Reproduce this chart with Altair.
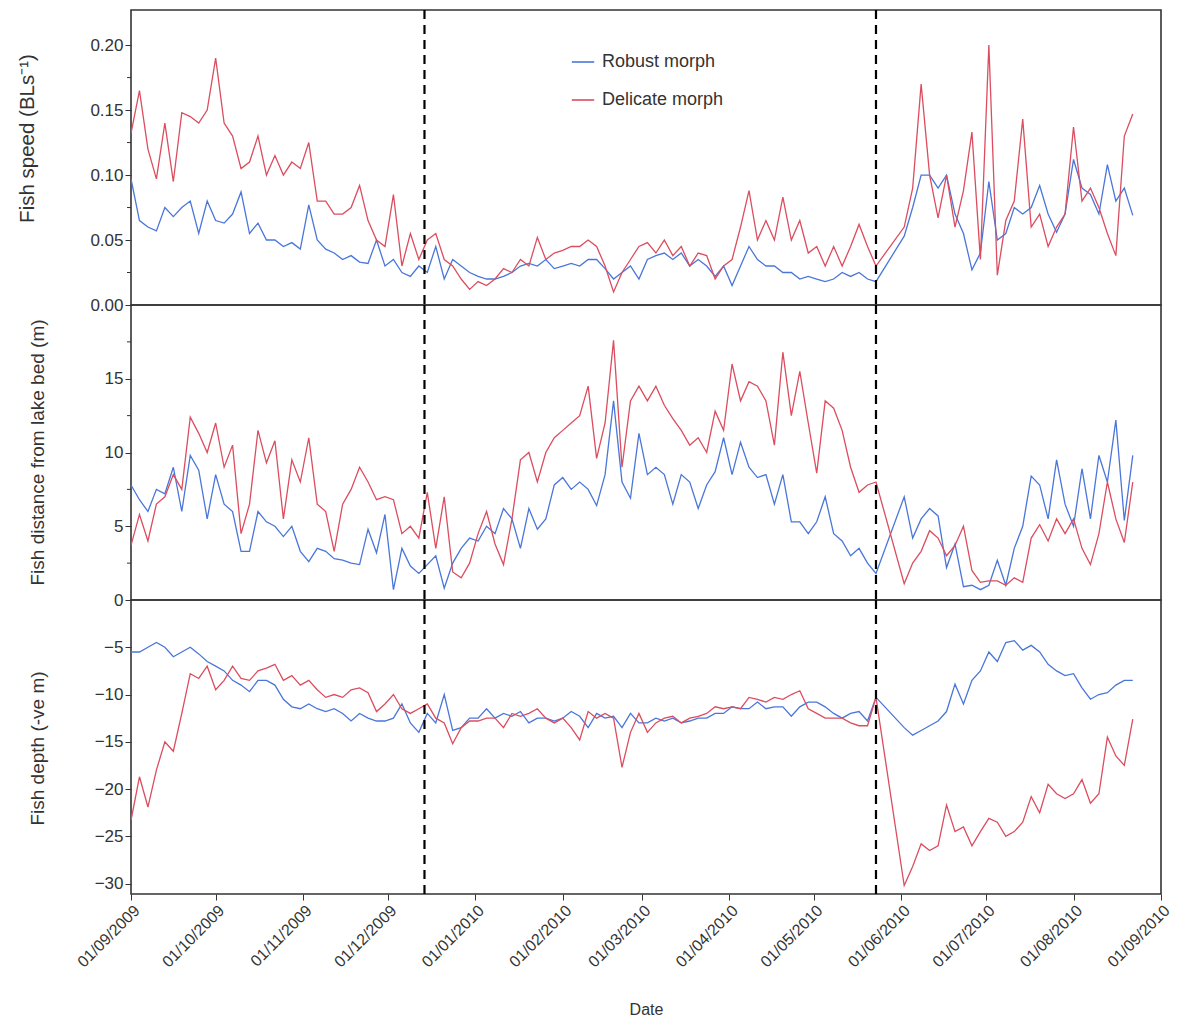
import altair as alt
import pandas as pd

morphs = ["Robust morph", "Delicate morph"]
colors = ["#4a76da", "#db4d5f"]

# sampling days (offset from 01/09/2009); gap in records late May 2010
days_a = list(range(0, 265, 3))
days_b = list(range(274, 356, 3))
days = days_a + days_b

speed_robust = [
    0.097, 0.065, 0.06, 0.057, 0.075, 0.068, 0.075, 0.08, 0.055, 0.08,
    0.065, 0.063, 0.07, 0.087, 0.055, 0.063, 0.05, 0.05, 0.045, 0.048,
    0.043, 0.077, 0.05, 0.043, 0.04, 0.035, 0.038, 0.033, 0.032, 0.05,
    0.03, 0.035, 0.025, 0.022, 0.03, 0.025, 0.045, 0.02, 0.035, 0.03,
    0.025, 0.022, 0.02, 0.02, 0.022, 0.025, 0.03, 0.032, 0.03, 0.035,
    0.028, 0.03, 0.032, 0.03, 0.035, 0.035, 0.028, 0.02, 0.025, 0.03,
    0.02, 0.035, 0.038, 0.04, 0.035, 0.04, 0.03, 0.035, 0.03, 0.022,
    0.03, 0.015, 0.03, 0.045, 0.035, 0.03, 0.03, 0.025, 0.025, 0.02,
    0.022, 0.02, 0.018, 0.02, 0.025, 0.022, 0.025, 0.02, 0.018,
    0.053, 0.075, 0.1, 0.1, 0.09, 0.1, 0.07, 0.055, 0.027, 0.04,
    0.095, 0.05, 0.055, 0.075, 0.07, 0.075, 0.092, 0.07, 0.056, 0.07,
    0.112, 0.09, 0.085, 0.07, 0.108, 0.08, 0.09, 0.069,
]
speed_delicate = [
    0.132, 0.165, 0.12, 0.097, 0.14, 0.095, 0.148, 0.145, 0.14, 0.15,
    0.19, 0.14, 0.13, 0.105, 0.11, 0.13, 0.10, 0.115, 0.10, 0.11,
    0.105, 0.125, 0.08, 0.08, 0.07, 0.07, 0.075, 0.092, 0.065, 0.05,
    0.045, 0.085, 0.03, 0.055, 0.035, 0.05, 0.055, 0.035, 0.03, 0.02,
    0.012, 0.018, 0.015, 0.02, 0.028, 0.025, 0.035, 0.03, 0.052, 0.035,
    0.04, 0.042, 0.045, 0.045, 0.05, 0.045, 0.03, 0.01, 0.025, 0.035,
    0.045, 0.048, 0.04, 0.05, 0.038, 0.045, 0.03, 0.04, 0.038, 0.02,
    0.03, 0.035, 0.06, 0.088, 0.05, 0.065, 0.05, 0.083, 0.05, 0.065,
    0.04, 0.045, 0.03, 0.045, 0.03, 0.045, 0.062, 0.045, 0.03,
    0.06, 0.09, 0.17, 0.10, 0.067, 0.10, 0.06, 0.088, 0.133, 0.035,
    0.20, 0.023, 0.065, 0.08, 0.143, 0.06, 0.07, 0.045, 0.06, 0.07,
    0.137, 0.08, 0.09, 0.075, 0.055, 0.038, 0.13, 0.147,
]
dist_robust = [
    7.8, 6.8, 6.0, 7.5, 7.2, 9.0, 6.0, 9.8, 8.8, 5.5,
    8.5, 6.5, 6.0, 3.3, 3.3, 6.0, 5.3, 5.0, 4.3, 5.0,
    3.3, 2.6, 3.5, 3.3, 2.8, 2.7, 2.5, 2.4, 4.8, 3.2,
    5.8, 0.7, 3.5, 2.3, 1.8, 2.4, 3.0, 0.8, 2.5, 3.5,
    4.2, 4.0, 5.0, 4.5, 6.2, 5.5, 3.5, 6.2, 4.8, 5.5,
    7.8, 8.3, 7.5, 8.0, 7.5, 6.4, 8.5, 13.5, 8.0, 6.9,
    11.3, 8.5, 9.0, 8.5, 6.5, 8.5, 8.0, 6.2, 7.8, 8.7,
    11.0, 8.5, 10.7, 9.0, 8.3, 8.5, 6.5, 8.5, 5.3, 5.3,
    4.5, 5.3, 7.0, 4.5, 4.0, 3.0, 3.5, 2.5, 1.8,
    7.0, 4.2, 5.5, 6.2, 5.7, 2.2, 3.8, 0.9, 1.0, 0.7,
    1.0, 2.7, 1.0, 3.5, 5.0, 8.4, 7.8, 5.5, 9.5, 6.5,
    5.0, 8.9, 5.5, 9.8, 8.0, 12.2, 5.4, 9.8,
]
dist_delicate = [
    3.7, 5.8, 4.0, 6.5, 7.0, 8.5, 7.5, 12.4, 11.3, 10.0,
    12.0, 9.0, 10.5, 4.5, 6.5, 11.5, 9.3, 10.8, 5.5, 9.5,
    8.0, 11.0, 6.5, 6.0, 3.3, 6.5, 7.5, 9.0, 8.0, 6.8,
    7.0, 6.8, 4.5, 5.0, 4.2, 7.3, 3.5, 7.0, 1.9, 1.5,
    2.5, 4.5, 6.0, 3.8, 2.4, 5.5, 9.5, 10.0, 8.0, 10.0,
    11.0, 11.5, 12.0, 12.5, 14.5, 9.6, 12.0, 17.6, 9.0, 13.5,
    14.5, 13.5, 14.5, 13.2, 12.3, 11.5, 10.5, 11.0, 10.0, 12.8,
    11.5, 16.0, 13.5, 14.8, 14.5, 13.5, 10.5, 16.8, 12.5, 15.5,
    12.0, 8.6, 13.5, 13.0, 11.5, 9.0, 7.3, 7.8, 8.0,
    1.1, 2.5, 3.3, 4.7, 4.2, 3.0, 3.7, 5.0, 2.0, 1.2,
    1.3, 1.3, 1.0, 1.5, 1.2, 4.2, 5.1, 4.0, 5.5, 4.5,
    5.5, 3.5, 2.4, 4.5, 8.0, 5.5, 3.9, 8.0,
]
depth_robust = [
    -5.5, -5.5, -5.0, -4.5, -5.0, -6.0, -5.5, -5.0, -5.7, -6.5,
    -7.0, -7.5, -8.5, -9.0, -9.7, -8.5, -8.5, -9.0, -10.5, -11.3,
    -11.5, -11.0, -11.5, -11.8, -11.5, -12.0, -12.8, -12.0, -12.5, -12.8,
    -12.8, -12.5, -11.0, -13.0, -14.0, -12.0, -13.0, -10.0, -13.8, -13.5,
    -12.5, -12.5, -11.5, -12.5, -12.0, -12.3, -11.8, -13.0, -12.5, -12.5,
    -12.8, -12.5, -11.8, -12.3, -13.5, -12.0, -12.5, -12.3, -13.5, -12.0,
    -13.0, -13.0, -12.5, -12.8, -12.5, -13.0, -12.8, -12.5, -12.5, -12.0,
    -12.0, -11.3, -11.5, -11.5, -10.8, -11.5, -11.3, -11.3, -12.3, -11.3,
    -10.8, -10.8, -11.3, -12.0, -12.5, -12.0, -11.8, -12.8, -10.3,
    -13.5, -14.3, -13.8, -13.3, -12.8, -11.8, -8.9, -11.0, -8.5, -7.5,
    -5.5, -6.5, -4.5, -4.3, -5.3, -4.8, -5.5, -6.8, -7.5, -8.0,
    -7.8, -9.3, -10.5, -10.0, -9.8, -9.0, -8.5, -8.5,
]
depth_delicate = [
    -23.3, -18.7, -21.9, -18.0, -15.0, -16.0, -12.0, -7.8, -8.3, -7.0,
    -9.5, -8.5, -7.0, -8.3, -8.5, -7.5, -7.2, -6.8, -8.5, -8.0,
    -9.0, -8.5, -9.5, -10.3, -10.0, -10.3, -9.5, -9.3, -9.8, -11.8,
    -11.0, -10.0, -11.5, -12.0, -11.5, -11.0, -12.5, -13.0, -15.2, -13.5,
    -12.8, -12.8, -12.5, -12.5, -13.5, -12.0, -12.3, -12.0, -11.5, -12.5,
    -13.0, -12.5, -13.5, -14.8, -11.8, -12.5, -12.0, -12.5, -17.7, -14.0,
    -12.0, -14.0, -13.0, -12.5, -12.3, -13.0, -12.5, -12.3, -12.0, -11.3,
    -11.5, -11.3, -11.5, -10.3, -10.5, -10.8, -10.3, -10.5, -10.0, -9.6,
    -11.5, -12.0, -12.5, -12.5, -12.5, -13.0, -13.3, -13.3, -10.3,
    -30.2, -28.2, -25.8, -26.5, -26.0, -21.7, -24.5, -24.0, -26.0, -24.5,
    -23.1, -23.5, -25.0, -24.5, -23.5, -20.8, -22.5, -19.5, -20.5, -21.0,
    -20.5, -19.0, -21.5, -20.5, -14.5, -16.5, -17.5, -12.6,
]

for s in [speed_robust, speed_delicate, dist_robust, dist_delicate, depth_robust, depth_delicate]:
    assert len(s) == len(days), (len(s), len(days))

change_dates = ["2009-12-14", "2010-05-23"]
month_ticks = [(2009, 9), (2009, 10), (2009, 11), (2009, 12), (2010, 1), (2010, 2),
               (2010, 3), (2010, 4), (2010, 5), (2010, 6), (2010, 7), (2010, 8), (2010, 9)]
speed_ticks = [0, 0.05, 0.10, 0.15, 0.20]
speed_minor = [0.025, 0.075, 0.125, 0.175]
dist_ticks = [0, 5, 10, 15]
dist_minor = [2.5, 7.5, 12.5, 17.5]
depth_ticks = [-30, -25, -20, -15, -10, -5]

FONT = "Liberation Sans"
TXT = "#333333"

dates = pd.Timestamp("2009-09-01") + pd.to_timedelta(days, unit="D")
n = len(days)
x_scale = alt.Scale(domain=[alt.DateTime(year=2009, month=9, date=1),
                            alt.DateTime(year=2010, month=9, date=1)])
month_dt = [alt.DateTime(year=y, month=m, date=1) for (y, m) in month_ticks]
rules_df = pd.DataFrame({"date": pd.to_datetime(change_dates)})


def make_panel(s_rob, s_del, ydom, yticks, yfmt, minor, title, tx, ty, tsize,
               height, bottom=False, legend=None):
    df = pd.DataFrame({
        "date": list(dates) * 2,
        "value": s_rob + s_del,
        "morph": [morphs[0]] * n + [morphs[1]] * n,
    })
    if bottom:
        x_axis = alt.Axis(values=month_dt, format="%d/%m/%Y", labelAngle=315,
                          labelFontSize=16, tickSize=6, title="Date",
                          titleFontSize=16, titlePadding=32)
    else:
        x_axis = None
    x_enc = alt.X("date:T", scale=x_scale, axis=x_axis)
    y_enc = alt.Y("value:Q",
                  scale=alt.Scale(domain=ydom, nice=False, zero=False),
                  axis=alt.Axis(values=yticks, format=yfmt, title=title,
                                titleX=tx, titleY=ty, titleAngle=270,
                                titleAlign="center", titleBaseline="middle",
                                titleFontSize=tsize, labelPadding=2))
    color = alt.Color("morph:N", scale=alt.Scale(domain=morphs, range=colors),
                      legend=legend)
    lines = alt.Chart(df).mark_line(strokeWidth=1.3, clip=True).encode(
        x=x_enc, y=y_enc, color=color)
    rules = alt.Chart(rules_df).mark_rule(color="black", strokeWidth=2.2,
                                          strokeDash=[9, 6]).encode(x=x_enc)
    layers = [lines, rules]
    if minor:
        mdf = pd.DataFrame({"value": minor})
        ticks = alt.Chart(mdf).mark_rule(color=TXT, strokeWidth=1).encode(
            x=alt.value(-4), x2=alt.value(0), y=y_enc)
        layers.append(ticks)
    return alt.layer(*layers).properties(width=1030, height=height)


legend = alt.Legend(title=None, orient="none", legendX=440, legendY=40,
                    symbolType="stroke", symbolSize=500, symbolStrokeWidth=1.6,
                    labelFontSize=18, labelColor=TXT, labelFont=FONT,
                    rowPadding=17, labelOffset=7)

top = make_panel(speed_robust, speed_delicate, [0, 0.227], speed_ticks, ".2f",
                 speed_minor, "Fish speed (BLs\u207b\u00b9)", -104, 128, 20.5, 295,
                 legend=legend)
mid = make_panel(dist_robust, dist_delicate, [0, 20], dist_ticks, "d",
                 dist_minor, "Fish distance from lake bed (m)", -94, 147, 19, 295)
bot = make_panel(depth_robust, depth_delicate, [-31.1, 0], depth_ticks, "d",
                 None, "Fish depth (-ve m)", -94, 148, 19, 294, bottom=True)

chart = alt.vconcat(top, mid, bot, spacing=0, bounds="flush").resolve_scale(
    color="independent"
).properties(
    padding={"left": 8, "top": 0, "right": 0, "bottom": 0}
).configure_view(
    stroke="#333333", strokeWidth=1.6
).configure_axis(
    labelFont=FONT, titleFont=FONT, labelColor=TXT, titleColor=TXT,
    tickColor=TXT, domain=False, grid=False, labelFontSize=17,
    titleFontWeight="normal", tickSize=6
).configure_legend(labelFont=FONT)

chart.save("out.html", embed_options={"renderer": "svg", "actions": False})
